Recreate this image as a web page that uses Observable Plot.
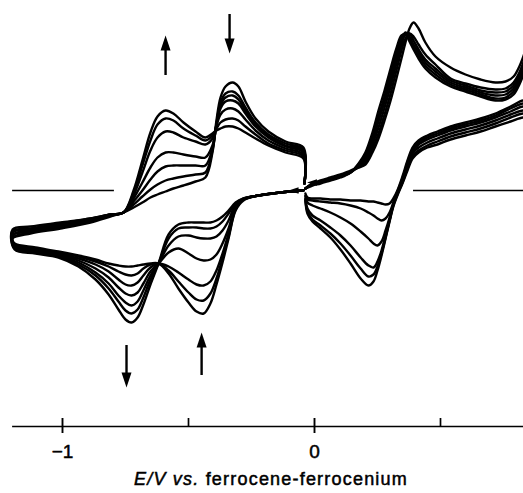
<!DOCTYPE html>
<html><head><meta charset="utf-8">
<script src="https://cdn.jsdelivr.net/npm/d3@7"></script>
<script src="https://cdn.jsdelivr.net/npm/@observablehq/plot@0.6"></script>
<style>
body{margin:0;background:#fff;}
#wrap{position:relative;width:523px;height:493px;overflow:hidden;}
#chart{position:absolute;top:0;left:0;}
#cap{position:absolute;top:470px;left:271px;transform:translateX(-50%);white-space:nowrap;font-family:"Liberation Sans",Arial,sans-serif;font-size:18px;line-height:18px;letter-spacing:1.2px;color:#000;-webkit-text-stroke:0.5px #000;}
</style></head><body>
<div id="wrap"><div id="chart"></div><div id="cap"><i>E/V vs.</i> ferrocene-ferrocenium</div></div>
<script>
// ---- Data: potentials (V vs Fc/Fc+) and currents (arbitrary units) ----
// Left loop (scan to -1.2 V and back), 7 successive scans
const leftLowerE = [-0.044,-0.135,-0.222,-0.282,-0.313,-0.341,-0.365,-0.389,-0.413,-0.440,-0.468,-0.500,-0.540,-0.579,-0.619,-0.651,-0.679,-0.702,-0.726,-0.750,-0.778,-0.817,-0.869,-0.937,-1.016,-1.107,-1.190];
const leftLowerI = [
  [0,-2,-5,-10,-20,-48,-72,-94,-113,-123,-121,-112,-98,-83,-73,-73,-74,-75,-76,-76,-75,-73,-69,-65,-61,-57,-53],
  [0,-2,-5,-9,-19,-46,-68,-88,-103,-110,-109,-102,-91,-80,-73,-74,-78,-83,-85,-84,-81,-76,-71,-66,-62,-58,-54],
  [0,-2,-5,-9,-18,-43,-63,-80,-91,-95,-94,-89,-82,-76,-73,-77,-85,-92,-95,-94,-89,-81,-74,-68,-63,-59,-55],
  [0,-2,-5,-9,-16,-38,-53,-64,-69,-70,-68,-63,-58,-62,-73,-81,-93,-102,-105,-103,-97,-87,-78,-70,-64,-60,-56],
  [0,-2,-5,-8,-14,-30,-40,-46,-48,-48,-47,-45,-46,-55,-73,-85,-100,-111,-115,-112,-105,-93,-82,-72,-65,-61,-57],
  [0,-2,-5,-8,-13,-23,-31,-36,-38,-38,-37,-37,-38,-48,-73,-89,-107,-119,-123,-120,-111,-98,-85,-74,-66,-62,-58],
  [0,-2,-5,-8,-12,-20,-26,-30,-32,-32,-32,-32,-34,-44,-73,-94,-114,-127,-132,-129,-119,-104,-89,-76,-67,-63,-59]
];
const leftUpperE = [-1.198,-1.127,-1.008,-0.889,-0.810,-0.758,-0.718,-0.683,-0.651,-0.623,-0.591,-0.560,-0.520,-0.472,-0.433,-0.405,-0.389,-0.373,-0.353,-0.325,-0.302,-0.274,-0.234,-0.183,-0.115,-0.044,-0.040];
const leftUpperI = [
  [-48,-43,-38,-32,-26,-22,-17,-12,-7,-4,-1,2,5,9,13,38,70,93,104,108,104,89,72,59,49,43,7],
  [-47,-42,-37,-31,-25,-22,-14,-6,1,6,10,12,14,16,18,40,67,88,97,99,95,83,68,56,47,41,7],
  [-45,-41,-36,-30,-25,-22,-11,0,11,19,24,25,25,25,25,42,66,85,93,95,91,80,66,54,45,40,7],
  [-44,-40,-35,-30,-25,-22,-8,8,23,33,38,38,36,34,33,45,65,82,89,90,87,77,64,53,44,38,7],
  [-42,-39,-34,-29,-24,-22,-5,18,40,53,59,58,53,49,46,52,65,76,81,82,79,71,60,50,42,36,7],
  [-41,-38,-33,-28,-24,-22,-2,25,50,66,72,70,62,55,50,55,62,68,71,72,70,64,56,47,40,34,7],
  [-39,-36,-32,-28,-24,-22,0,30,58,74,80,77,68,59,53,57,60,62,64,64,62,58,52,45,38,32,7]
];
// Right loop (scan to +0.85 V and back), 6 scans
const rightUpperE = [-0.036,-0.008,0.024,0.063,0.103,0.143,0.175,0.202,0.230,0.254,0.278,0.302,0.325,0.345,0.361,0.377,0.393,0.413,0.440,0.480,0.540,0.599,0.659,0.718,0.758,0.790,0.813,0.829,0.849];
const rightUpperI = [
  [2,7,10,13,16,20,23,26,38,52,70,90,112,132,148,162,168,162,148,134,123,116,111,108,109,114,124,134,150],
  [2,7,9,12,15,19,23,28,42,57,76,97,120,140,152,157,154,146,136,126,112,107,103,101,102,108,118,128,144],
  [2,7,9,12,15,19,24,31,46,63,83,104,127,146,156,157,150,141,131,122,110,105,100,98,99,105,115,125,141],
  [2,6,8,11,14,18,25,33,50,69,89,110,133,150,158,154,146,138,128,119,108,103,98,95,96,102,112,122,138],
  [2,6,8,11,14,18,26,35,54,74,94,116,138,154,157,151,143,135,125,116,106,101,96,92,93,99,109,119,135],
  [2,5,7,10,13,18,27,38,58,80,100,122,142,155,156,149,141,132,122,113,104,99,94,90,91,96,106,116,132]
];
const rightLowerE = [0.849,0.829,0.778,0.718,0.659,0.599,0.540,0.488,0.448,0.413,0.389,0.369,0.349,0.329,0.313,0.298,0.282,0.266,0.250,0.234,0.214,0.183,0.143,0.103,0.063,0.024,-0.008,-0.028,-0.036];
const rightLowerI = [
  [71,73,69,64,59,55,51,46,43,38,32,20,7,-5,-16,-31,-48,-65,-80,-91,-95,-88,-73,-59,-47,-38,-31,-23,-10],
  [75,77,73,67,62,58,54,49,45,40,34,22,8,-4,-15,-30,-47,-63,-76,-84,-86,-78,-65,-53,-43,-35,-29,-21,-9],
  [78,80,76,70,65,61,57,52,48,43,37,24,9,-3,-14,-29,-45,-60,-71,-77,-75,-67,-55,-45,-37,-30,-25,-18,-8],
  [82,84,79,73,68,64,60,55,51,46,39,26,10,-2,-13,-27,-40,-51,-55,-53,-48,-41,-33,-27,-22,-18,-15,-12,-6],
  [85,87,82,75,70,66,62,57,53,48,41,28,12,-1,-12,-22,-28,-30,-28,-25,-22,-18,-15,-13,-12,-11,-10,-9,-5],
  [88,90,84,77,72,68,64,59,55,50,43,30,14,0,-8,-13,-14,-13,-12,-11,-11,-10,-10,-9,-9,-8,-8,-7,-3]
];
// zero-current baseline segments (V ranges)
const zeroSegStart = [-1.198, 0.393];
const zeroSegEnd = [-0.794, 0.830];
// axis ticks
const xTicks = [-1, 0];
const xTickLabels = ["\u22121", "0"];
const xMinorTicks = [-0.5, 0.5];
// trend arrows: potential, shaft start/end current, head current, direction
const trendE = [-0.591, -0.337, -0.746, -0.448];
const trendFrom = [115, 176, -155, -185];
const trendTo = [142, 148, -185, -155];
const trendHead = [146, 146, -188, -151];
const trendDir = ["up", "down", "down", "up"];
// scan-direction arrowheads on the curves
const scanE = [-0.079, -0.006];
const scanI = [0, 8];

// ---- Build tables ----
const rows = [];
leftLowerI.forEach((lo, k) => {
  leftLowerE.forEach((e, j) => rows.push({E: e, I: lo[j], id: "L" + k}));
  leftUpperE.forEach((e, j) => rows.push({E: e, I: leftUpperI[k][j], id: "L" + k}));
});
rightUpperI.forEach((up, k) => {
  rightUpperE.forEach((e, j) => rows.push({E: e, I: up[j], id: "R" + k}));
  rightLowerE.forEach((e, j) => rows.push({E: e, I: rightLowerI[k][j], id: "R" + k}));
});
const zeroSegs = zeroSegStart.map((s, k) => ({x1: s, x2: zeroSegEnd[k]}));
const trends = trendE.map((e, k) => ({E: e, from: trendFrom[k], to: trendTo[k], head: trendHead[k], rot: trendDir[k] === "up" ? 0 : 180}));
const scans = scanE.map((e, k) => ({E: e, I: scanI[k]}));

// elongated filled arrowhead symbol (points up before rotation)
const headSymbol = {
  draw(ctx, size) {
    const r = Math.sqrt(size / Math.PI);
    const w = r, L = r * 3;
    ctx.moveTo(0, -L * 0.6);
    ctx.lineTo(w, L * 0.4);
    ctx.lineTo(-w, L * 0.4);
    ctx.closePath();
  }
};

// ---- Layout ----
const W = 523, H = 476;
const axisLevel = -236, tickTop = -228, tickBot = -243, labelLevel = -261;

const chart = Plot.plot({
  width: W, height: H,
  marginLeft: 0, marginRight: 0, marginTop: 0, marginBottom: 0,
  x: {domain: [-314 / 252, 209 / 252], axis: null},
  y: {domain: [190 - H, 190], axis: null},
  style: {background: "transparent"},
  marks: [
    Plot.ruleY(zeroSegs, {y: 0, x1: "x1", x2: "x2", stroke: "#000", strokeWidth: 1.7}),
    Plot.line(rows, {x: "E", y: "I", z: "id", curve: "catmull-rom", stroke: "#000", strokeWidth: 2.4, clip: true}),
    Plot.dot(scans, {x: "E", y: "I", symbol: headSymbol, r: 3.3, fill: "#000", stroke: null, rotate: -90}),
    Plot.ruleX(trends, {x: "E", y1: "from", y2: "to", stroke: "#000", strokeWidth: 2.4}),
    Plot.dot(trends, {x: "E", y: "head", symbol: headSymbol, r: 5, fill: "#000", stroke: null, rotate: "rot"}),
    // x axis
    Plot.ruleY([axisLevel], {x1: -1.198, x2: 0.83, stroke: "#000", strokeWidth: 1.7}),
    Plot.ruleX(xTicks, {y1: tickTop, y2: tickBot, stroke: "#000", strokeWidth: 1.9}),
    Plot.ruleX(xMinorTicks, {y1: tickTop, y2: axisLevel, stroke: "#000", strokeWidth: 1.7}),
    Plot.text(xTicks, {x: d => d, y: labelLevel, text: (d, i) => xTickLabels[i], fontSize: 19, fontFamily: "Liberation Sans, Arial, sans-serif", fill: "#000", stroke: "#000", strokeWidth: 0.5, lineAnchor: "middle"})
  ]
});
document.getElementById("chart").appendChild(chart);
</script>
</body></html>
